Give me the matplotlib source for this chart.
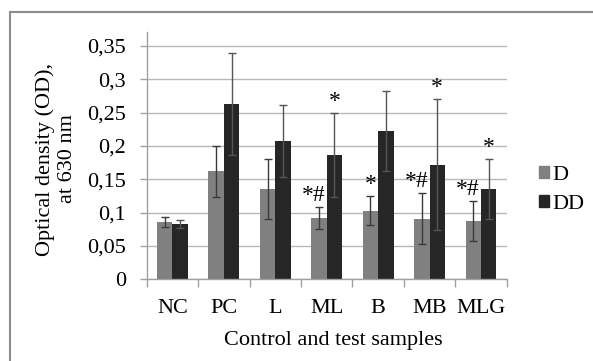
import numpy as np
import matplotlib
matplotlib.use('Agg')
import matplotlib.pyplot as plt
from matplotlib.patches import Patch
from matplotlib.lines import Line2D

plt.rcParams['font.family'] = ['Liberation Serif', 'DejaVu Serif']

# values
samples = ['NC', 'PC', 'L', 'ML', 'B', 'MB', 'MLG']
d_mean = [0.086, 0.162, 0.136, 0.092, 0.103, 0.091, 0.087]
d_err = [0.007, 0.038, 0.045, 0.017, 0.022, 0.038, 0.030]
dd_mean = [0.083, 0.263, 0.208, 0.187, 0.223, 0.172, 0.135]
dd_err = [0.006, 0.076, 0.054, 0.063, 0.060, 0.098, 0.045]
d_marks = ['', '', '', '*#', '*', '*#', '*#']
dd_marks = ['', '', '', '*', '', '*', '*']

fs = 16
W, H = 593, 361
fig = plt.figure(figsize=(W / 100, H / 100), dpi=100)
ax = fig.add_axes([146.7 / W, 1 - 279.3 / H, 360 / W, (279.3 - 32) / H])

x = np.arange(len(samples))
bw = 0.3
ax.bar(x - bw / 2, d_mean, bw, color='#808080', label='D', zorder=2)
ax.bar(x + bw / 2, dd_mean, bw, color='#262626', label='DD', zorder=2)
ax.errorbar(x - bw / 2, d_mean, yerr=d_err, fmt='none', ecolor='#3a3a3a',
            elinewidth=1, capsize=3, capthick=1, zorder=3)
ax.errorbar(x + bw / 2, dd_mean, yerr=dd_err, fmt='none', ecolor='#555555',
            elinewidth=1, capsize=3, capthick=1, zorder=3)

for i in range(len(samples)):
    m = d_marks[i]
    if m:
        # the '#' sits over the error bar, the '*' to its left
        ha = 'right' if len(m) > 1 else 'center'
        dx = 0.12 if len(m) > 1 else 0
        ax.text(x[i] - bw / 2 + dx, d_mean[i] + d_err[i] + 0.009, m,
                ha=ha, va='baseline', fontsize=17)
    if dd_marks[i]:
        ax.text(x[i] + bw / 2, dd_mean[i] + dd_err[i] + 0.009, dd_marks[i],
                ha='center', va='baseline', fontsize=17)

ax.set_xlim(-0.5, len(samples) - 0.5)
ax.set_ylim(0, 0.371)
yt = np.arange(0, 0.36, 0.05)
ax.set_yticks(yt)
ax.set_yticklabels(['0'] + [('%g' % v).replace('.', ',') for v in yt[1:]], fontsize=fs)
ax.set_xticks(x)
ax.set_xticklabels(samples, fontsize=fs)
ax.set_xticks(np.arange(-0.5, len(samples), 1), minor=True)
ax.tick_params(axis='x', which='major', length=0, pad=14)
ax.tick_params(axis='x', which='minor', length=6, color='#a0a0a0', width=1)
ax.tick_params(axis='y', length=5, color='#a0a0a0', width=1, pad=10)

ax.grid(axis='y', color='#b8b8b8', linewidth=1, zorder=0)
for s in ['top', 'right']:
    ax.spines[s].set_visible(False)
for s in ['left', 'bottom']:
    ax.spines[s].set_color('#a0a0a0')
    ax.spines[s].set_linewidth(1)

fig.text(333.5 / W, 1 - 340.7 / H, 'Control and test samples', ha='center', va='center', fontsize=fs)
fig.text(56 / W, 1 - 159 / H, 'Optical density (OD),\nat 630 nm', rotation=90,
         ha='center', va='center', multialignment='center', fontsize=fs, linespacing=1.25)

handles = [Patch(color='#808080', label='D'), Patch(color='#262626', label='DD')]
fig.legend(handles=handles, loc='center left', bbox_to_anchor=(528 / W, 1 - 190 / H),
           frameon=False, fontsize=fs, handlelength=0.45, handleheight=0.45,
           handletextpad=0.15, labelspacing=0.45, borderpad=0)

# outer frame, only top and left edges are visible in the crop
fig.add_artist(Line2D([10 / W, 1], [1 - 12 / H] * 2, color='#8c8c8c', lw=1.5))
fig.add_artist(Line2D([10 / W] * 2, [0, 1 - 12 / H], color='#8c8c8c', lw=1.5))

fig.savefig('out.png', dpi=100)
